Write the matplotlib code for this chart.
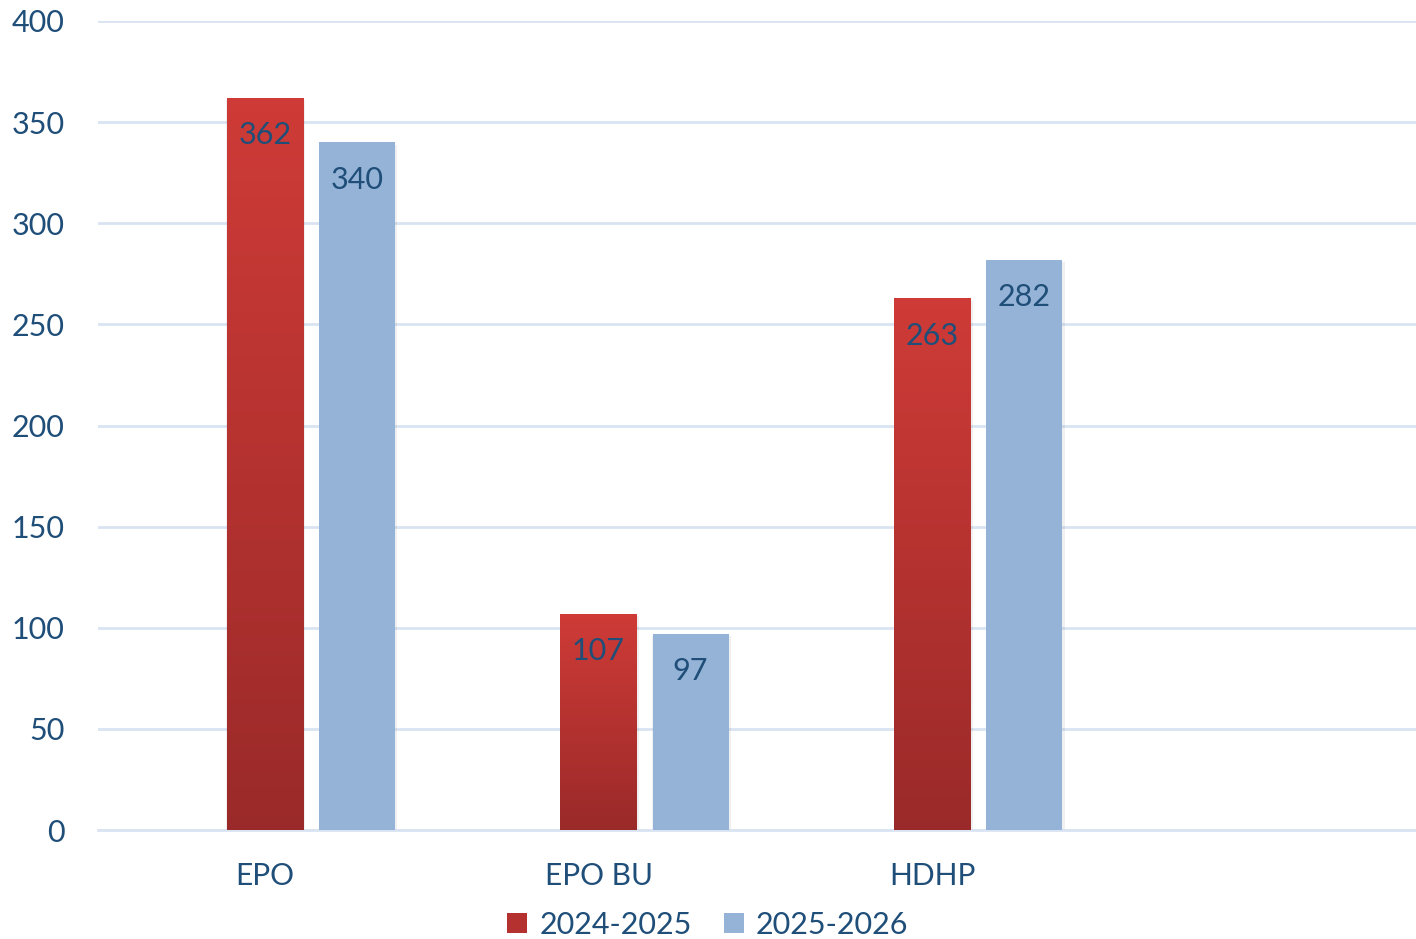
import numpy as np
import matplotlib
matplotlib.use('Agg')
import matplotlib.pyplot as plt
from matplotlib.colors import LinearSegmentedColormap
from matplotlib.patches import Patch

plt.rcParams['font.family'] = ['Lato', 'DejaVu Sans']

# data
categories = ['EPO', 'EPO BU', 'HDHP']
series_names = ['2024-2025', '2025-2026']
vals_2425 = [362, 107, 263]
vals_2526 = [340, 97, 282]

txt_col = '#1F4E79'
grid_col = '#D9E3F2'
blue = '#95B3D7'
red_cmap = LinearSegmentedColormap.from_list('redgrad', ['#9A2A29', '#CF3B37'])

fig = plt.figure(figsize=(14.16, 9.39), dpi=100)
ax = fig.add_axes([98 / 1416, 109 / 939, 1318 / 1416, 809 / 939])

x = np.arange(len(categories))
w = 0.228
off = 0.276

# red bars, gradient filled per bar
bars_r = ax.bar(x, vals_2425, width=w, color='none', zorder=3)
grad = np.linspace(0, 1, 256).reshape(-1, 1)
for b in bars_r:
    x0, y0 = b.get_x(), b.get_y()
    im = ax.imshow(grad, cmap=red_cmap, aspect='auto', origin='lower',
                   extent=[x0, x0 + b.get_width(), y0, y0 + b.get_height()], zorder=3)
    im.set_clip_path(b)

bars_b = ax.bar(x + off, vals_2526, width=w, color=blue, zorder=3)

# soft shadows
for b in list(bars_r) + list(bars_b):
    ax.bar(b.get_x() + b.get_width() / 2 + 0.003, b.get_height(), width=w + 0.008,
           bottom=-1.2, color='#000000', alpha=0.06, zorder=2, linewidth=0)

# value labels
for xs, vals in [(x, vals_2425), (x + off, vals_2526)]:
    for xi, v in zip(xs, vals):
        ax.annotate(str(v), (xi, v), xytext=(0, -27), textcoords='offset points',
                    ha='center', va='center', fontsize=22, color=txt_col, zorder=5)

ax.set_xlim(-0.5, 3.45)
ax.set_ylim(0, 400)
ax.set_yticks(range(0, 401, 50))
ax.set_xticks(x)
ax.set_xticklabels(categories)
ax.tick_params(axis='both', length=0, labelsize=22, colors=txt_col)
ax.tick_params(axis='x', labelsize=21.5, pad=23)
ax.tick_params(axis='y', pad=24)
for lab in ax.get_yticklabels():
    lab.set_horizontalalignment('right')
ax.grid(axis='y', color=grid_col, linewidth=2, zorder=0)
for s in ['top', 'right', 'left']:
    ax.spines[s].set_visible(False)
ax.spines['bottom'].set_color(grid_col)
ax.spines['bottom'].set_linewidth(2)
ax.set_ylim(0, 400)

handles = [Patch(facecolor='#B5312F'), Patch(facecolor=blue)]
fig.legend(handles, series_names, loc='center', bbox_to_anchor=(0.5, 14 / 939),
           ncol=2, frameon=False, fontsize=22, handlelength=0.65, handleheight=0.65,
           handletextpad=0.4, columnspacing=1.05, labelcolor=txt_col)

fig.savefig('out.png', dpi=100)
